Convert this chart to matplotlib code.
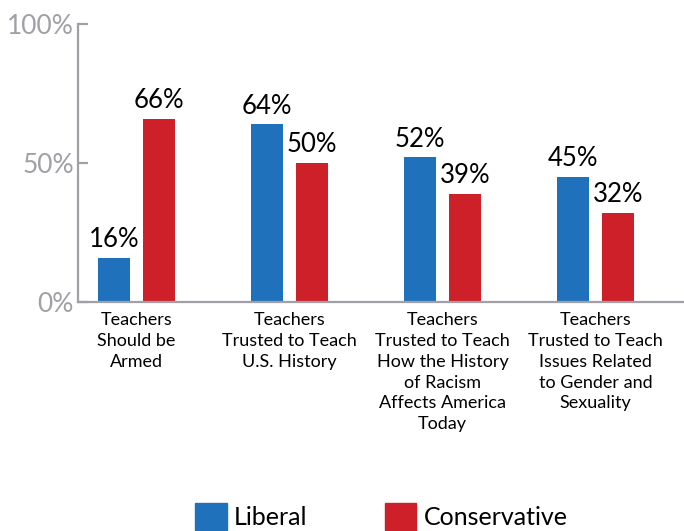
import matplotlib
matplotlib.use("Agg")
import matplotlib.pyplot as plt
from matplotlib.patches import Patch
import numpy as np

plt.rcParams['font.family'] = ['Lato', 'DejaVu Sans']

# data
categories = ["Teachers\nShould be\nArmed",
              "Teachers\nTrusted to Teach\nU.S. History",
              "Teachers\nTrusted to Teach\nHow the History\nof Racism\nAffects America\nToday",
              "Teachers\nTrusted to Teach\nIssues Related\nto Gender and\nSexuality"]
liberal = [16, 64, 52, 45]
conservative = [66, 50, 39, 32]
series_names = ["Liberal", "Conservative"]

BLUE = "#1f71bb"
RED = "#cd2029"
GRAY = "#a0a0a6"

fig = plt.figure(figsize=(6.84, 5.31), dpi=100)
ax = fig.add_axes([78/684, 1 - 302/531, 1 - 78/684, (302 - 24)/531])

x = np.arange(len(categories))
w = 0.209
off = 0.147
b1 = ax.bar(x - off, liberal, w, color=BLUE)
b2 = ax.bar(x + off, conservative, w, color=RED)

for bars in (b1, b2):
    for r in bars:
        ax.annotate(f"{r.get_height():.0f}%",
                    (r.get_x() + r.get_width() / 2, r.get_height()),
                    xytext=(0, 4), textcoords="offset points",
                    ha="center", va="bottom", fontsize=18.5, color="black")

ax.set_xlim(-0.382, 3.578)
ax.set_ylim(0, 100)
ax.set_yticks([0, 50, 100])
ax.set_yticklabels(["0%", "50%", "100%"])
ax.set_xticks(x)
ax.set_xticklabels(categories, fontsize=13, linespacing=1.38)

for s in ("top", "right"):
    ax.spines[s].set_visible(False)
for s in ("left", "bottom"):
    ax.spines[s].set_color(GRAY)
    ax.spines[s].set_linewidth(1.6)
ax.tick_params(axis="y", direction="in", length=7, width=1.6, color=GRAY,
               labelcolor=GRAY, labelsize=19, pad=3)
ax.tick_params(axis="x", length=0, pad=7, labelcolor="black")

handles = [Patch(color=BLUE), Patch(color=RED)]
fig.legend(handles, series_names, loc="lower center", ncol=2,
           bbox_to_anchor=(0.558, -0.04), frameon=False, fontsize=18,
           handlelength=1.25, handleheight=1.25, handletextpad=0.3,
           columnspacing=3.1)

fig.savefig("out.png", dpi=100)
